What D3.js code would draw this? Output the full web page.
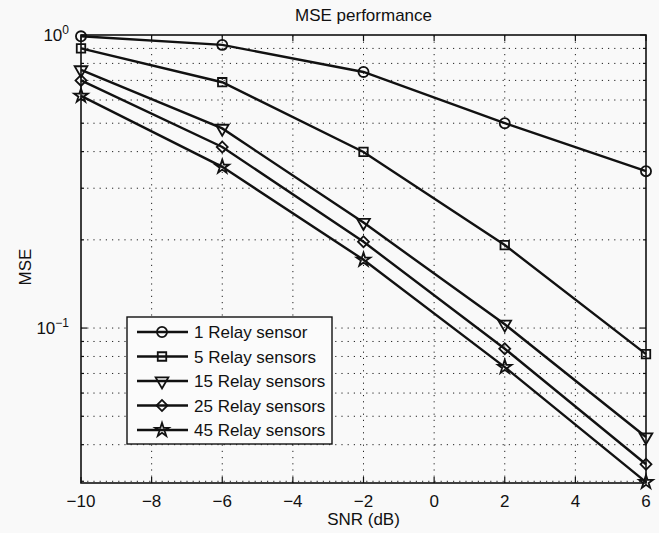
<!DOCTYPE html>
<html lang="en">

<head>
    <meta charset="UTF-8">
    <title>MSE performance</title>
    <script src="https://d3js.org/d3.v7.min.js"></script>
    <style>
        body,
        html {
            margin: 0;
            background: #f9f9f9;
            overflow: hidden;
        }

        svg text {
            font-family: "Liberation Sans", Arial, sans-serif;
            fill: #111;
        }
    </style>
</head>

<body>
    <svg id="chart" width="659" height="533"></svg>
    <script>
        // data
        var snr = [-10, -6, -2, 2, 6];
        var seriesNames = ["1 Relay sensor", "5 Relay sensors", "15 Relay sensors", "25 Relay sensors", "45 Relay sensors"];
        var mse1 = [0.99, 0.925, 0.748, 0.50, 0.343];
        var mse5 = [0.90, 0.69, 0.399, 0.192, 0.0815];
        var mse15 = [0.76, 0.48, 0.229, 0.103, 0.0425];
        var mse25 = [0.70, 0.415, 0.197, 0.085, 0.0343];
        var mse45 = [0.62, 0.355, 0.171, 0.0736, 0.0298];
        var xTicks = [-10, -8, -6, -4, -2, 0, 2, 4, 6];
        var yMajor = [0.1, 1];
        var yMinor = [0.03, 0.04, 0.05, 0.06, 0.07, 0.08, 0.09, 0.2, 0.3, 0.4, 0.5, 0.6, 0.7, 0.8, 0.9];

        var allSeries = [mse1, mse5, mse15, mse25, mse45];
        var markerKinds = ["circle", "square", "triangle", "diamond", "star"];

        var margin = { left: 81, right: 13, top: 35, bottom: 50 };
        var W = 659, H = 533;
        var svg = d3.select("#chart");

        var x = d3.scaleLinear().domain([-10, 6]).range([margin.left, W - margin.right]);
        var y = d3.scaleLog().domain([0.0296, 1]).range([H - margin.bottom, margin.top]);
        var x0 = x.range()[0], x1 = x.range()[1], y0 = y.range()[0], y1 = y.range()[1];

        // grid (dotted)
        var grid = svg.append("g").attr("stroke", "#222").attr("stroke-width", 1)
            .attr("stroke-dasharray", "1.2,5");
        xTicks.filter(d => d > -10 && d < 6).forEach(function (d) {
            grid.append("line").attr("x1", x(d)).attr("x2", x(d)).attr("y1", y0).attr("y2", y1);
        });
        yMinor.concat([0.1]).forEach(function (d) {
            grid.append("line").attr("x1", x0).attr("x2", x1).attr("y1", y(d)).attr("y2", y(d));
        });

        // marker builder
        function markerPath(kind) {
            if (kind === "circle") return d3.symbol(d3.symbolCircle, 80)();
            if (kind === "square") return d3.symbol(d3.symbolSquare, 72)();
            if (kind === "triangle") return d3.symbol(d3.symbolTriangle, 70)();
            if (kind === "diamond") return d3.symbol(d3.symbolSquare, 60)();
            return d3.symbol(d3.symbolStar, 58)();
        }
        function markerRotate(kind) {
            if (kind === "triangle") return " rotate(180)";
            if (kind === "diamond") return " rotate(45)";
            return "";
        }

        // lines
        var line = d3.line()
            .x(function (d, i) { return x(snr[i]); })
            .y(function (d) { return y(d); });

        allSeries.forEach(function (vals, s) {
            svg.append("path")
                .datum(vals)
                .attr("fill", "none")
                .attr("stroke", "#111")
                .attr("stroke-width", 2.4)
                .attr("d", line);
            svg.append("g").selectAll("path")
                .data(vals)
                .join("path")
                .attr("d", markerPath(markerKinds[s]))
                .attr("transform", function (d, i) { return "translate(" + x(snr[i]) + "," + y(d) + ")" + markerRotate(markerKinds[s]); })
                .attr("fill", "none")
                .attr("stroke", "#111")
                .attr("stroke-width", 1.8);
        });

        // axes box
        svg.append("rect")
            .attr("x", x0).attr("y", y1)
            .attr("width", x1 - x0).attr("height", y0 - y1)
            .attr("fill", "none").attr("stroke", "#111").attr("stroke-width", 1.6);

        // ticks (inward, both sides)
        var ticks = svg.append("g").attr("stroke", "#111").attr("stroke-width", 1.2);
        xTicks.forEach(function (d) {
            ticks.append("line").attr("x1", x(d)).attr("x2", x(d)).attr("y1", y0).attr("y2", y0 - 6);
            ticks.append("line").attr("x1", x(d)).attr("x2", x(d)).attr("y1", y1).attr("y2", y1 + 6);
        });
        yMajor.forEach(function (d) {
            ticks.append("line").attr("x1", x0).attr("x2", x0 + 6).attr("y1", y(d)).attr("y2", y(d));
            ticks.append("line").attr("x1", x1).attr("x2", x1 - 6).attr("y1", y(d)).attr("y2", y(d));
        });
        yMinor.forEach(function (d) {
            ticks.append("line").attr("x1", x0).attr("x2", x0 + 3).attr("y1", y(d)).attr("y2", y(d));
            ticks.append("line").attr("x1", x1).attr("x2", x1 - 3).attr("y1", y(d)).attr("y2", y(d));
        });

        // tick labels
        svg.append("g").selectAll("text")
            .data(xTicks)
            .join("text")
            .attr("x", d => x(d))
            .attr("y", y0 + 24)
            .attr("text-anchor", "middle")
            .style("font-size", "17px")
            .text(d => d3.format("d")(d));

        yMajor.forEach(function (d) {
            var t = svg.append("text")
                .attr("x", x0 - 12)
                .attr("y", y(d) + 6)
                .attr("text-anchor", "end")
                .style("font-size", "17px");
            t.append("tspan").text("10");
            t.append("tspan").attr("dy", -7).style("font-size", "12px")
                .text(d === 1 ? "0" : "\u22121");
        });

        // title and axis labels
        svg.append("text")
            .attr("x", (x0 + x1) / 2).attr("y", 21)
            .attr("text-anchor", "middle").style("font-size", "17px")
            .text("MSE performance");
        svg.append("text")
            .attr("x", (x0 + x1) / 2).attr("y", H - 8)
            .attr("text-anchor", "middle").style("font-size", "17px")
            .text("SNR (dB)");
        svg.append("text")
            .attr("transform", "translate(31," + ((y0 + y1) / 2 + 8) + ") rotate(-90)")
            .attr("text-anchor", "middle").style("font-size", "17px")
            .text("MSE");

        // legend
        var lg = svg.append("g").attr("transform", "translate(127,317)");
        lg.append("rect")
            .attr("width", 205).attr("height", 127)
            .attr("fill", "#fbfbfb").attr("stroke", "#111").attr("stroke-width", 1.4);
        seriesNames.forEach(function (name, s) {
            var yy = 15 + s * 24.5;
            lg.append("line")
                .attr("x1", 10).attr("x2", 61).attr("y1", yy).attr("y2", yy)
                .attr("stroke", "#111").attr("stroke-width", 2.4);
            lg.append("path")
                .attr("d", markerPath(markerKinds[s]))
                .attr("transform", "translate(35," + yy + ")" + markerRotate(markerKinds[s]))
                .attr("fill", "none").attr("stroke", "#111").attr("stroke-width", 1.8);
            lg.append("text")
                .attr("x", 67).attr("y", yy + 6)
                .style("font-size", "17px")
                .text(name);
        });
    </script>
</body>

</html>
